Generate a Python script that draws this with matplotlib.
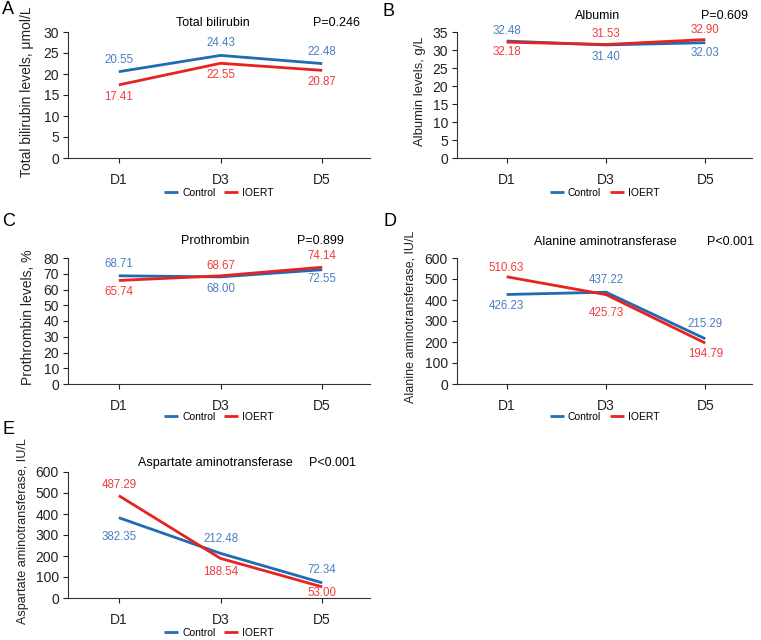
import matplotlib
matplotlib.use("Agg")
import matplotlib.pyplot as plt

plt.rcParams['font.family'] = ['Liberation Sans', 'DejaVu Sans']

# data
days = ["D1", "D3", "D5"]

bili_control = [20.55, 24.43, 22.48]
bili_ioert = [17.41, 22.55, 20.87]

alb_control = [32.48, 31.40, 32.03]
alb_ioert = [32.18, 31.53, 32.90]

pro_control = [68.71, 68.00, 72.55]
pro_ioert = [65.74, 68.67, 74.14]

alt_control = [426.23, 437.22, 215.29]
alt_ioert = [510.63, 425.73, 194.79]

ast_control = [382.35, 212.48, 72.34]
ast_ioert = [487.29, 188.54, 53.00]

titles = ["Total bilirubin", "Albumin", "Prothrombin",
          "Alanine aminotransferase", "Aspartate aminotransferase"]
pvalues = ["P=0.246", "P=0.609", "P=0.899", "P<0.001", "P<0.001"]
ylabels = ["Total bilirubin levels, \u03bcmol/L", "Albumin levels, g/L",
           "Prothrombin levels, %", "Alanine aminotransferase, IU/L",
           "Aspartate aminotransferase, IU/L"]
letters = ["A", "B", "C", "D", "E"]

BLUE = "#1f6cb4"
RED = "#e8221f"
BLUE_TXT = "#4a7fc2"
RED_TXT = "#f23b3b"
W, H = 761, 640

fig = plt.figure(figsize=(W / 100, H / 100), dpi=100)


def px(x, y):
    return x / W, 1 - y / H


# panel setup: (left, right, top, bottom) in pixels, ylim, yticks step,
# label offsets in px (control, ioert), title pos, p pos, letter pos, legend y
panels = [
    dict(ctl=bili_control, ioe=bili_ioert, box=(68, 370, 32, 158), ymax=30, step=5,
         off_c=[12, 12, 12], off_i=[-12, -12, -12], ylfs=10, ylx=-0.113,
         tpos=(213, 23), ppos=(337, 23), lpos=(8, 10), legy=193),
    dict(ctl=alb_control, ioe=alb_ioert, box=(457, 752, 32, 158), ymax=35, step=5,
         off_c=[10, -12, -10], off_i=[-10, 10, 10], ylfs=9.4, ylx=-0.106,
         tpos=(598, 16), ppos=(725, 16), lpos=(388, 11), legy=193),
    dict(ctl=pro_control, ioe=pro_ioert, box=(68, 370, 258, 384), ymax=80, step=10,
         off_c=[12, -12, -9], off_i=[-12, 10, 11], ylfs=10, ylx=-0.108,
         tpos=(215, 241), ppos=(320, 241), lpos=(9, 222), legy=417),
    dict(ctl=alt_control, ioe=alt_ioert, box=(457, 752, 258, 384), ymax=600, step=100,
         off_c=[-12, 12, 15], off_i=[9, -18, -11], ylfs=9, ylx=-0.138,
         tpos=(605, 242), ppos=(730, 242), lpos=(390, 222), legy=417),
    dict(ctl=ast_control, ioe=ast_ioert, box=(68, 370, 472, 598), ymax=600, step=100,
         off_c=[-19, 14, 13], off_i=[11, -14, -6], ylfs=9.1, ylx=-0.128,
         tpos=(215, 463), ppos=(333, 463), lpos=(8, 430), legy=633),
]

for i, p in enumerate(panels):
    l, r, t, b = p["box"]
    ax = fig.add_axes([l / W, 1 - b / H, (r - l) / W, (b - t) / H])
    x = range(len(days))
    ax.plot(x, p["ctl"], color=BLUE, lw=2.0, label="Control", solid_capstyle="butt")
    ax.plot(x, p["ioe"], color=RED, lw=2.0, label="IOERT", solid_capstyle="butt")
    for j in x:
        ax.annotate(f"{p['ctl'][j]:.2f}", (j, p["ctl"][j]),
                    xytext=(0, p["off_c"][j] * 0.72), textcoords="offset points",
                    ha="center", va="center", fontsize=8.3, color=BLUE_TXT)
        ax.annotate(f"{p['ioe'][j]:.2f}", (j, p["ioe"][j]),
                    xytext=(0, p["off_i"][j] * 0.72), textcoords="offset points",
                    ha="center", va="center", fontsize=8.3, color=RED_TXT)
    ax.set_xlim(-0.5, 2.47)
    ax.set_ylim(0, p["ymax"])
    ax.set_yticks(range(0, p["ymax"] + 1, p["step"]))
    ax.set_xticks(list(x))
    ax.set_xticklabels(days)
    ax.spines["top"].set_visible(False)
    ax.spines["right"].set_visible(False)
    for s in ("left", "bottom"):
        ax.spines[s].set_color("#333333")
        ax.spines[s].set_linewidth(0.8)
    ax.tick_params(axis="both", labelsize=10, colors="#222222", length=3.5,
                   width=0.8, direction="out")
    ax.tick_params(axis="x", pad=7)
    ax.tick_params(axis="y", pad=3)
    ax.set_ylabel(ylabels[i], fontsize=p["ylfs"], color="#222222")
    ax.yaxis.set_label_coords(p["ylx"], 0.53)
    fig.text(*px(*p["tpos"]), titles[i], ha="center", va="center", fontsize=9)
    fig.text(*px(*p["ppos"]), pvalues[i], ha="center", va="center", fontsize=9)
    fig.text(*px(*p["lpos"]), letters[i], ha="center", va="center", fontsize=13)
    ax.legend(loc="center", bbox_to_anchor=px((l + r) / 2, p["legy"]),
              bbox_transform=fig.transFigure, ncol=2, frameon=False,
              fontsize=7.5, handlelength=1.35, handletextpad=0.4,
              columnspacing=0.8, borderpad=0)

fig.savefig("out.png", dpi=100)
